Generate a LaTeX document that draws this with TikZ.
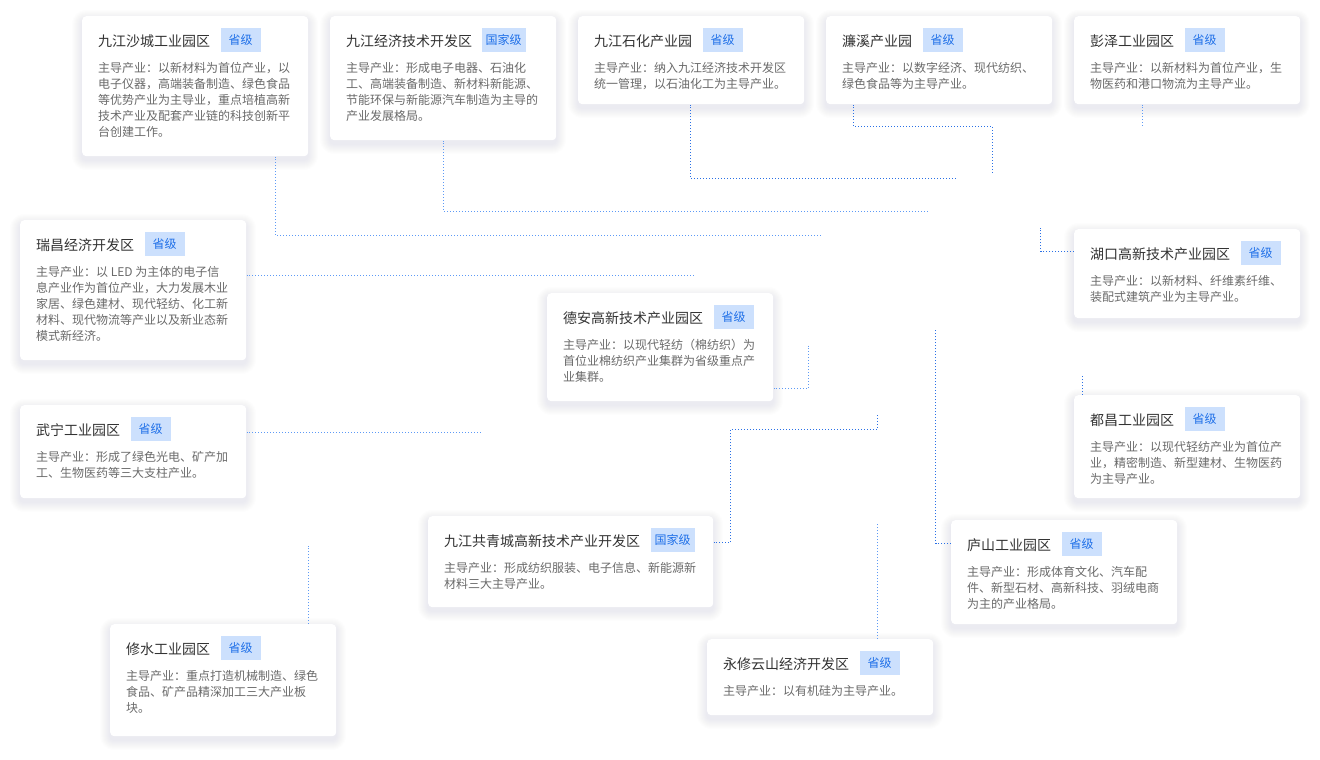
\documentclass[tikz,border=0pt]{standalone}
\usepackage{fontspec}
\setmainfont{Noto Sans CJK SC}
\usetikzlibrary{calc}
\definecolor{titlec}{HTML}{333333}
\definecolor{bodyc}{HTML}{6A6A6A}
\definecolor{badgef}{HTML}{CCE0FD}
\definecolor{badget}{HTML}{1E6FE8}
\definecolor{lineL}{HTML}{5D9AF6}
\definecolor{lineD}{HTML}{2A70E6}
\definecolor{shadc}{HTML}{5A6478}
\tikzset{
  card/.style={anchor=north west, fill=white, draw=none, rounded corners=4pt, inner sep=0pt},
  shadowlayer/.style={fill=shadc, fill opacity=0.008, draw=none},
  ttl/.style={anchor=west, inner sep=0pt, text=titlec, font=\fontsize{14}{16}\selectfont},
  badge/.style={anchor=west, fill=badgef, text=badget, inner xsep=4pt, inner ysep=0pt, minimum width=40pt, minimum height=24pt, font=\fontsize{12}{14}\selectfont},
  body/.style={anchor=north west, inner sep=0pt, text=bodyc, align=left, font=\fontsize{12}{16}\selectfont},
  conn/.style={draw=lineL, line width=1pt, dash pattern=on 1pt off 2pt, dash phase=0.5pt},
  connd/.style={draw=lineD, line width=1pt, dash pattern=on 1pt off 2pt, dash phase=0.5pt},
}
\newcommand{\parkcard}[9]{%
  % #1 name, #2 x, #3 y, #4 w, #5 h, #6 title, #7 badge, #8 body, #9 gap
  \foreach \k in {1,...,10}{%
    \fill[shadowlayer, rounded corners={4pt+\k pt}] ($(#2,#3)+(-\k,-\k+4)$) rectangle ($(#2,#3)+(#4,#5)+(\k,\k+4)$);
  }
  \node[card, minimum width=#4pt, minimum height=#5pt] (#1) at (#2,#3) {};
  \node[ttl] (#1t) at ($(#1.north west)+(16,25)$) {#6};
  \node[badge] (#1b) at ($(#1t.east)+(#9,-1)$) {#7};
  \node[body] (#1d) at ($(#1.north west)+(16,46)$) {#8};
}
\begin{document}
\begin{tikzpicture}[x=1pt,y=-1pt]
\fill[white] (0,0) rectangle (1320,760);
\useasboundingbox (0,0) rectangle (1320,760);

\coordinate (e1) at (820.5,235.5);
\coordinate (e2) at (928.5,211.5);
\coordinate (e3) at (956.5,178.5);
\coordinate (e4) at (992.5,173.5);
\coordinate (e5) at (1142.5,125.5);
\coordinate (e6) at (695.5,275.5);
\coordinate (e7) at (1040.5,227.5);
\coordinate (e8) at (808.5,345.5);
\coordinate (e9) at (480.5,432.5);
\coordinate (e10) at (1082.5,374.5);
\coordinate (e11) at (877.5,413.5);
\coordinate (e12) at (935.5,328.5);
\coordinate (e13) at (308.5,545.5);
\coordinate (e14) at (877.5,523.5);

\parkcard{shacheng}{82}{16}{226}{140}{九江沙城工业园区}{省级}{主导产业：以新材料为首位产业，以\\电子仪器，高端装备制造、绿色食品\\等优势产业为主导业，重点培植高新\\技术产业及配套产业链的科技创新平\\台创建工作。}{10}
\parkcard{jingkai}{330}{16}{226}{124}{九江经济技术开发区}{国家级}{主导产业：形成电子电器、石油化\\工、高端装备制造、新材料新能源、\\节能环保与新能源汽车制造为主导的\\产业发展格局。}{9}
\parkcard{shihua}{578}{16}{226}{88}{九江石化产业园}{省级}{主导产业：纳入九江经济技术开发区\\统一管理，以石油化工为主导产业。}{10}
\parkcard{lianxi}{826}{16}{226}{88}{濂溪产业园}{省级}{主导产业：以数字经济、现代纺织、\\绿色食品等为主导产业。}{10}
\parkcard{pengze}{1074}{16}{226}{88}{彭泽工业园区}{省级}{主导产业：以新材料为首位产业，生\\物医药和港口物流为主导产业。}{10}
\parkcard{ruichang}{20}{220}{226}{140}{瑞昌经济开发区}{省级}{主导产业：以 LED 为主体的电子信\\息产业作为首位产业，大力发展木业\\家居、绿色建材、现代轻纺、化工新\\材料、现代物流等产业以及新业态新\\模式新经济。}{10}
\parkcard{hukou}{1074}{229}{226}{89}{湖口高新技术产业园区}{省级}{主导产业：以新材料、纤维素纤维、\\装配式建筑产业为主导产业。}{10}
\parkcard{dean}{547}{293}{226}{108}{德安高新技术产业园区}{省级}{主导产业：以现代轻纺（棉纺织）为\\首位业棉纺织产业集群为省级重点产\\业集群。}{10}
\parkcard{wuning}{20}{405}{226}{93}{武宁工业园区}{省级}{主导产业：形成了绿色光电、矿产加\\工、生物医药等三大支柱产业。}{10}
\parkcard{duchang}{1074}{395}{226}{103}{都昌工业园区}{省级}{主导产业：以现代轻纺产业为首位产\\业，精密制造、新型建材、生物医药\\为主导产业。}{10}
\parkcard{gongqing}{428}{516}{285}{91}{九江共青城高新技术产业开发区}{国家级}{主导产业：形成纺织服装、电子信息、新能源新\\材料三大主导产业。}{10}
\parkcard{lushan}{951}{520}{226}{104}{庐山工业园区}{省级}{主导产业：形成体育文化、汽车配\\件、新型石材、高新科技、羽绒电商\\为主的产业格局。}{10}
\parkcard{xiushui}{110}{624}{226}{112}{修水工业园区}{省级}{主导产业：重点打造机械制造、绿色\\食品、矿产品精深加工三大产业板\\块。}{10}
\parkcard{yongxiu}{707}{639}{226}{76}{永修云山经济开发区}{省级}{主导产业：以有机硅为主导产业。}{10}

\draw[conn] ($(shacheng.south west)+(193.5,0.5)$) |- (e1);
\draw[conn] ($(jingkai.south west)+(113.5,0.5)$) |- (e2);
\draw[connd] ($(shihua.south west)+(112.5,0.5)$) |- (e3);
\draw[connd] ($(lianxi.south west)+(27.5,0.5)$) -- ++(0,22) -| (e4);
\draw[conn] ($(pengze.south west)+(68.5,0.5)$) -- (e5);
\draw[conn] ($(ruichang.north east)+(0.5,55.5)$) -- (e6);
\draw[connd] ($(hukou.north west)+(-0.5,22.5)$) -| (e7);
\draw[conn] ($(dean.north east)+(0.5,95.5)$) -| (e8);
\draw[conn] ($(wuning.north east)+(0.5,27.5)$) -- (e9);
\draw[connd] ($(duchang.north west)+(8.5,-0.5)$) -- (e10);
\draw[connd] ($(gongqing.north east)+(0.5,26.5)$) -- ++(17,0) -- ++(0,-113) -| (e11);
\draw[connd] ($(lushan.north west)+(-0.5,23.5)$) -| (e12);
\draw[conn] ($(xiushui.north west)+(198.5,-0.5)$) -- (e13);
\draw[conn] ($(yongxiu.north west)+(170.5,-0.5)$) -- (e14);
\end{tikzpicture}
\end{document}
